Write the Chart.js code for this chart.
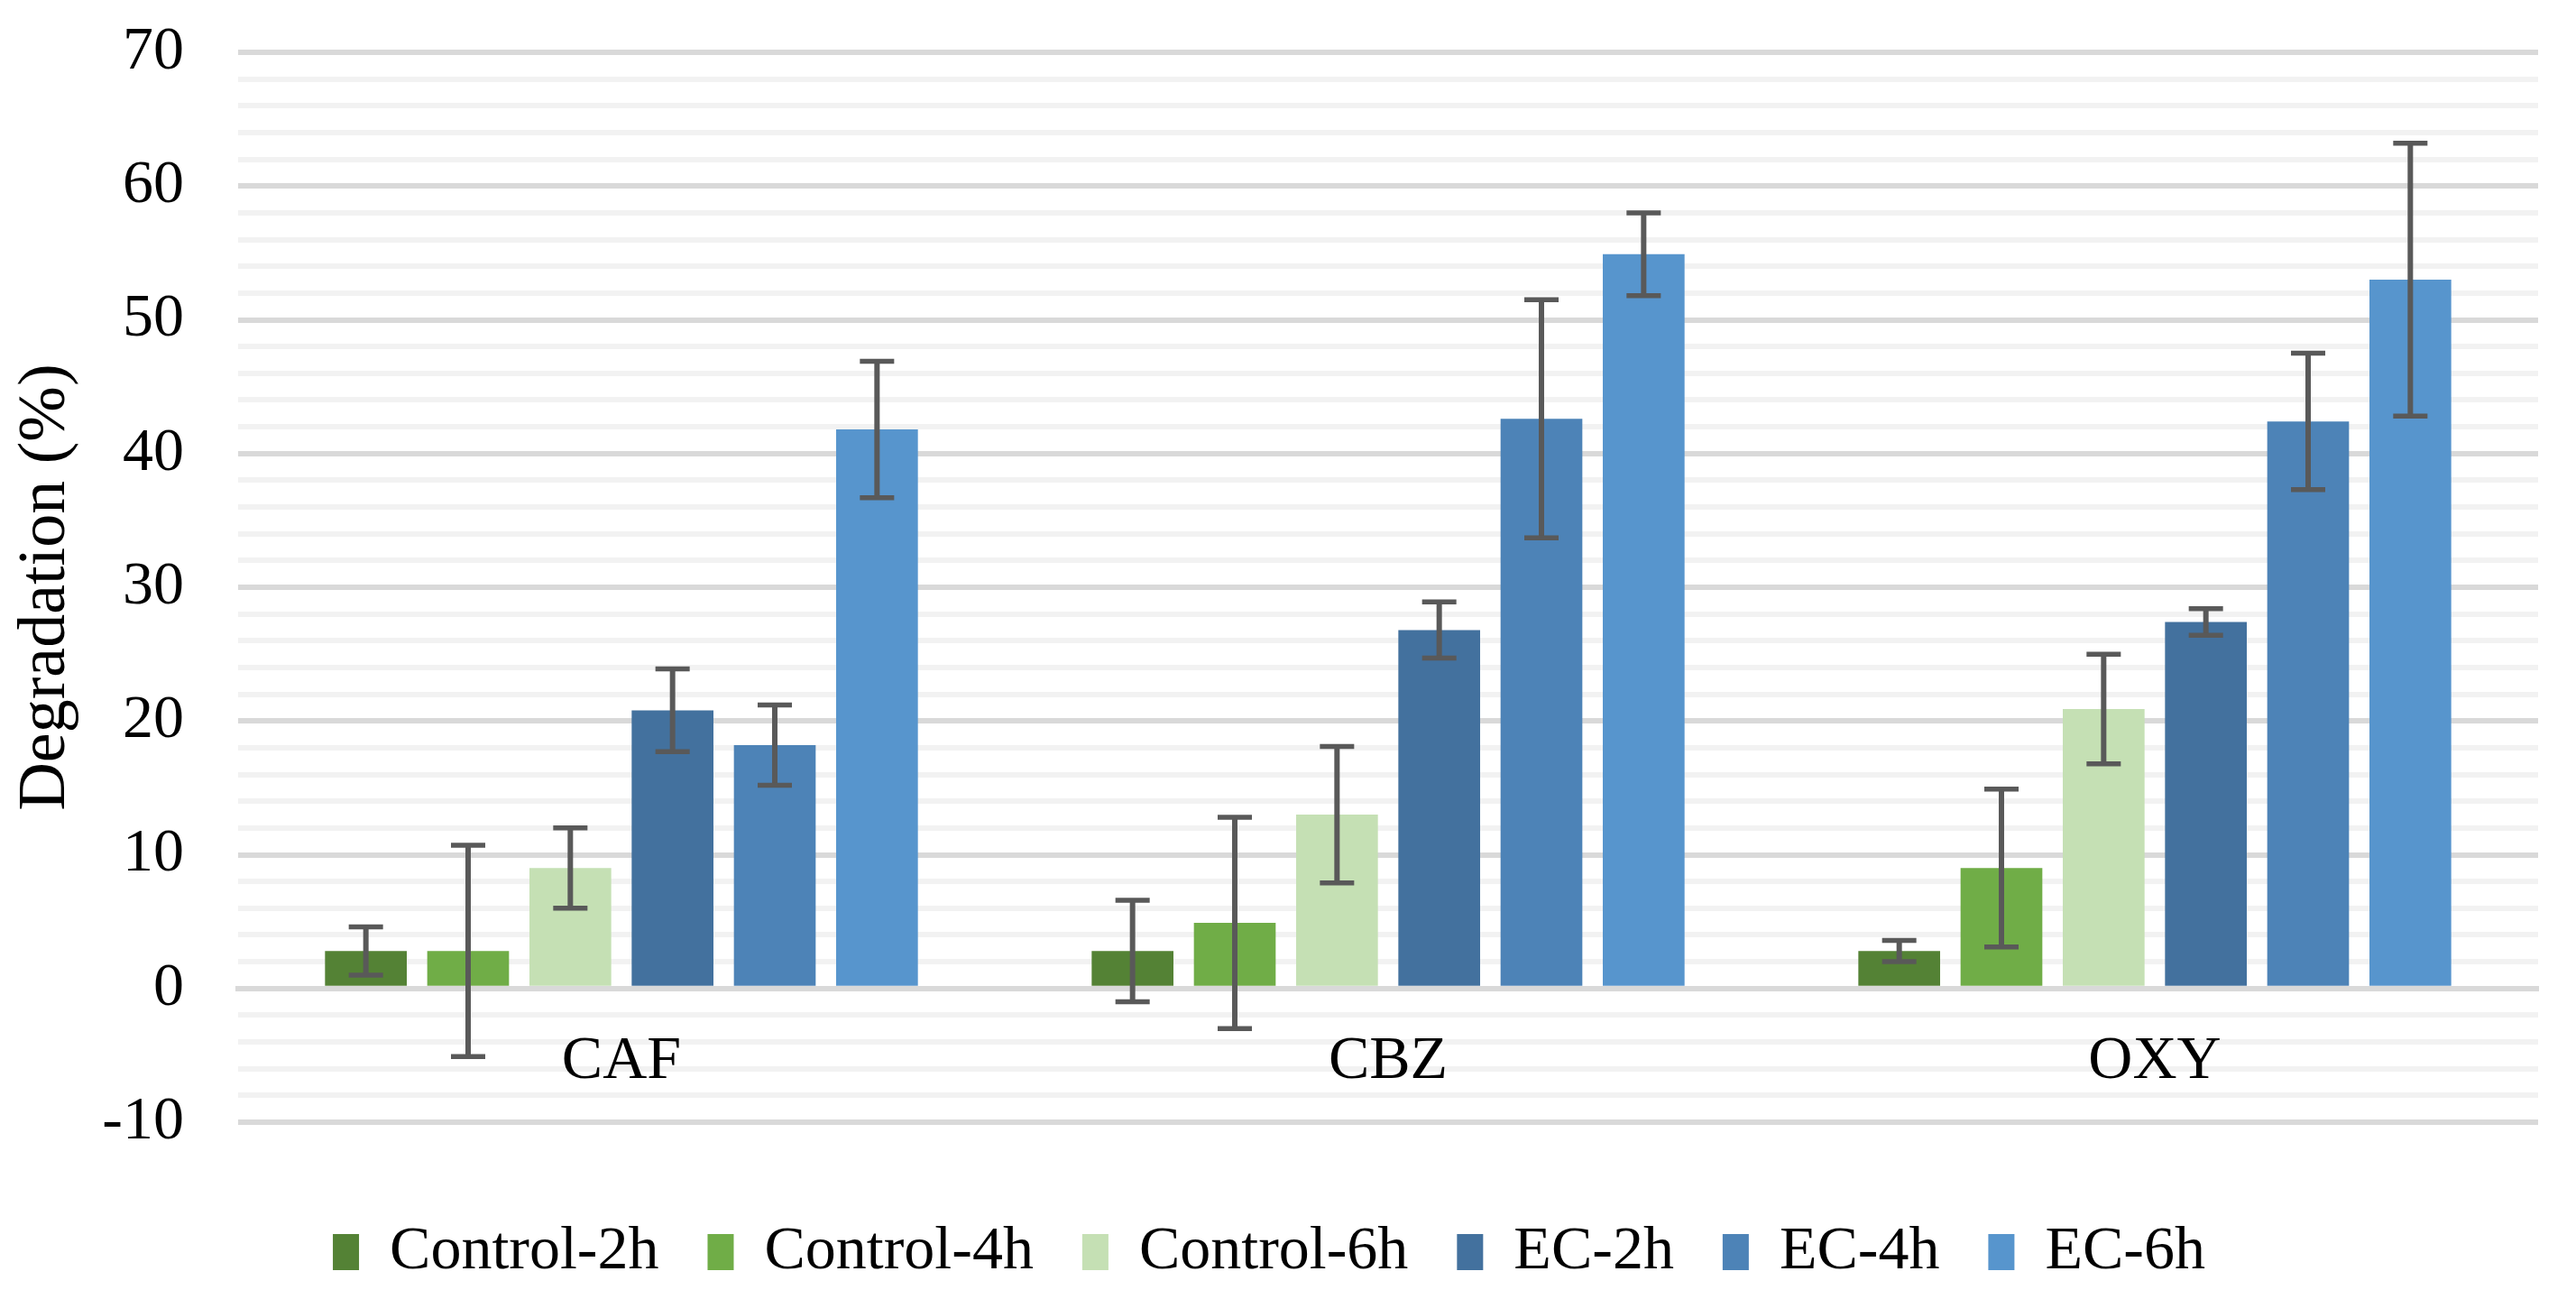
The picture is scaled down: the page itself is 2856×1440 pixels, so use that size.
<!DOCTYPE html>
<html>
<head>
<meta charset="utf-8">
<script src="https://cdn.jsdelivr.net/npm/chart.js@4.4.1/dist/chart.umd.min.js"></script>
<style>
  html, body { margin: 0; padding: 0; background: #fff; }
  #wrap { width: 2856px; height: 1440px; }
</style>
</head>
<body>
<div id="wrap"><canvas id="chart"></canvas></div>
<script>
// -------------- Data --------------
const compounds = ['CAF', 'CBZ', 'OXY'];
const seriesNames = ['Control-2h', 'Control-4h', 'Control-6h', 'EC-2h', 'EC-4h', 'EC-6h'];

// mean degradation (%) per series, in compound order
const control2h = [2.8, 2.8, 2.8];
const control4h = [2.8, 4.9, 9.0];
const control6h = [9.0, 13.0, 20.9];
const ec2h = [20.8, 26.8, 27.4];
const ec4h = [18.2, 42.6, 42.4];
const ec6h = [41.8, 54.9, 53.0];

// error bar half-widths (%)
const control2hErr = [1.8, 3.8, 0.8];
const control4hErr = [7.9, 7.9, 5.9];
const control6hErr = [3.0, 5.1, 4.1];
const ec2hErr = [3.1, 2.1, 1.0];
const ec4hErr = [3.0, 8.9, 5.1];
const ec6hErr = [5.1, 3.1, 10.2];

const yTicks = [-10, 0, 10, 20, 30, 40, 50, 60, 70];

const seriesValues = [control2h, control4h, control6h, ec2h, ec4h, ec6h];
const seriesErrors = [control2hErr, control4hErr, control6hErr, ec2hErr, ec4hErr, ec6hErr];
const seriesColors = ['#548235', '#70AD47', '#C5E0B4', '#43719E', '#4D83B7', '#5795CD'];

const FONT = 'Liberation Serif';

// -------------- Error bars plugin --------------
const errorBars = {
    id: 'errorBars',
    afterDraw(chart) {
        const ctx = chart.ctx;
        const yScale = chart.scales.y;
        ctx.save();
        ctx.strokeStyle = '#595959';
        chart.data.datasets.forEach((ds, i) => {
            const meta = chart.getDatasetMeta(i);
            meta.data.forEach((bar, j) => {
                const v = ds.data[j];
                const e = ds.errors[j];
                const top = yScale.getPixelForValue(v + e);
                const bot = yScale.getPixelForValue(v - e);
                ctx.lineWidth = 6;
                ctx.beginPath();
                ctx.moveTo(bar.x, top);
                ctx.lineTo(bar.x, bot);
                ctx.stroke();
                ctx.lineWidth = 5.5;
                ctx.beginPath();
                ctx.moveTo(bar.x - 19, top);
                ctx.lineTo(bar.x + 19, top);
                ctx.moveTo(bar.x - 19, bot);
                ctx.lineTo(bar.x + 19, bot);
                ctx.stroke();
            });
        });
        ctx.restore();
    }
};

// -------------- Chart --------------
const datasets = seriesNames.map((name, i) => ({
    label: name,
    data: seriesValues[i],
    errors: seriesErrors[i],
    backgroundColor: seriesColors[i],
    borderWidth: 0,
    categoryPercentage: 0.8,
    barPercentage: 0.8
}));

new Chart(document.getElementById('chart'), {
    type: 'bar',
    data: { labels: compounds, datasets: datasets },
    plugins: [errorBars],
    options: {
        responsive: true,
        maintainAspectRatio: false,
        animation: false,
        devicePixelRatio: 1,
        layout: { padding: { left: 0, right: 42, top: 58, bottom: 8 } },
        plugins: {
            tooltip: { enabled: false },
            legend: {
                position: 'bottom',
                labels: {
                    boxWidth: 29,
                    boxHeight: 40,
                    padding: 54,
                    color: '#000',
                    font: { family: FONT, size: 68 }
                }
            }
        },
        scales: {
            x: {
                position: { y: 0 },
                grid: { display: false },
                border: { display: true, color: '#D9D9D9', width: 6, z: 1 },
                ticks: {
                    color: '#000',
                    padding: 33,
                    font: { family: FONT, size: 68 }
                }
            },
            // spacer between plot and legend
            x2: {
                type: 'category',
                position: 'bottom',
                grid: { display: false },
                border: { display: false },
                ticks: { display: false },
                afterFit: s => { s.height = 56; }
            },
            y: {
                min: -10,
                max: 70,
                afterFit: s => {
                    s.width = 264;
                    s.paddingTop = 0;
                    s.paddingBottom = 0;
                },
                border: { display: false },
                grid: {
                    drawTicks: false,
                    lineWidth: 6,
                    color: c => yTicks.includes(c.tick.value) ? '#D9D9D9' : '#F2F2F2'
                },
                ticks: {
                    stepSize: 2,
                    autoSkip: false,
                    padding: 60,
                    color: '#000',
                    font: { family: FONT, size: 68 },
                    callback: v => yTicks.includes(v) ? String(v) : ''
                },
                title: {
                    display: true,
                    text: 'Degradation (%)',
                    color: '#000',
                    padding: { top: 7, bottom: 0 },
                    font: { family: FONT, size: 74 }
                }
            }
        }
    }
});
</script>
</body>
</html>
